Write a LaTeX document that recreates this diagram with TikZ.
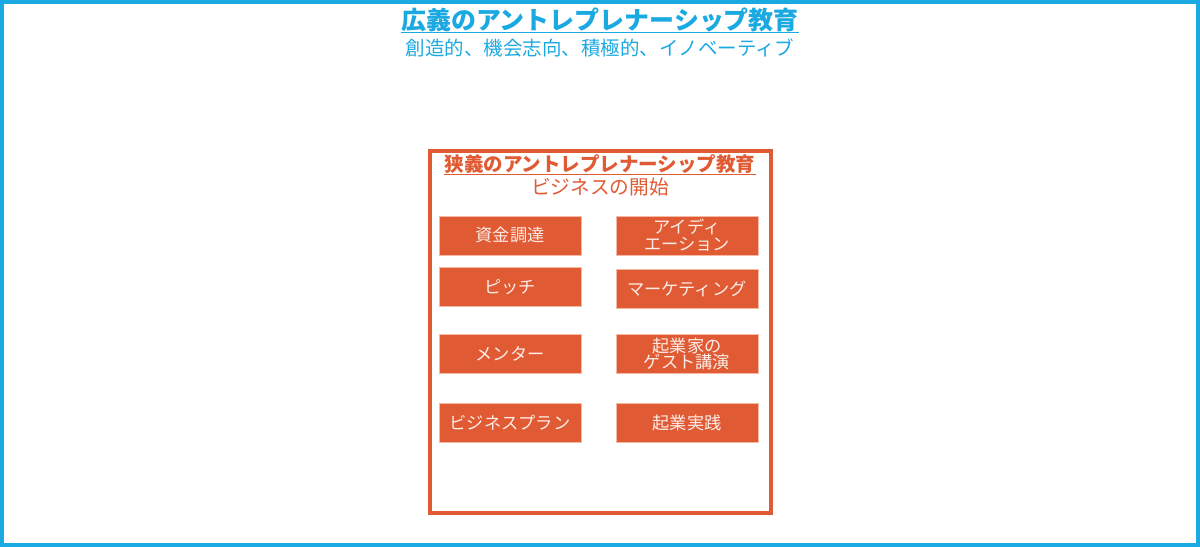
\documentclass[tikz,border=0pt]{standalone}
\usepackage{fontspec}
\setmainfont{Noto Sans CJK JP}
\usepackage{xcolor}
\usepackage{tikz}
\usetikzlibrary{positioning}

\definecolor{broadblue}{HTML}{1BA9E1}
\definecolor{narroworange}{HTML}{E05A33}
\definecolor{boxedge}{HTML}{F6B9A6}
\definecolor{boxtext}{HTML}{FCEDE8}

\begin{document}
\begin{tikzpicture}[
  x=0.02cm, y=-0.02cm,
  ttl/.style={inner sep=0pt, font=\bfseries\fontsize{#1}{#1}\selectfont},
  sub/.style={inner sep=0pt, font=\fontsize{#1}{#1}\selectfont},
  item/.style={rectangle, fill=narroworange, draw=boxedge, line width=0.5pt,
    minimum width=2.84cm, minimum height=0.78cm, inner sep=0pt, align=center,
    text=boxtext, font=\fontsize{9.8}{9.6}\selectfont}
]
  \useasboundingbox (0,0) rectangle (1200,547);
  % wide frame
  \draw[broadblue, line width=2.2pt] (2,2) rectangle (1198,545);
  \node[ttl=14.2, text=broadblue] (broad) at (600,19.5) {広義のアントレプレナーシップ教育};
  \draw[broadblue, line width=0.8pt] ([yshift=-0.3pt]broad.south west) -- ([yshift=-0.3pt]broad.south east);
  \node[sub=11.1, text=broadblue] (broadsub) at (600,48) {創造的、機会志向、積極的、イノベーティブ};

  % narrow frame
  \draw[narroworange, line width=2.2pt] (430,151) rectangle (771,513);
  \node[ttl=11.1, text=narroworange] (narrow) at (600,164) {狭義のアントレプレナーシップ教育};
  \draw[narroworange, line width=0.6pt] ([yshift=-0.6pt]narrow.south west) -- ([yshift=-0.6pt]narrow.south east);
  \node[sub=11.2, text=narroworange] (narrowsub) at (600,187) {ビジネスの開始};

  \node[item] (funding) at (510,235.5) {資金調達};
  \node[item] (ideation) at (687,235.5) {アイディ\\エーション};
  \node[item] (pitch) at (510,287) {ピッチ};
  \node[item] (marketing) at (687,289) {マーケティング};
  \node[item] (mentor) at (510,354) {メンター};
  \node[item] (guest) at (687,354) {起業家の\\ゲスト講演};
  \node[item] (plan) at (510,423) {ビジネスプラン};
  \node[item] (practice) at (687,423) {起業実践};
\end{tikzpicture}
\end{document}
